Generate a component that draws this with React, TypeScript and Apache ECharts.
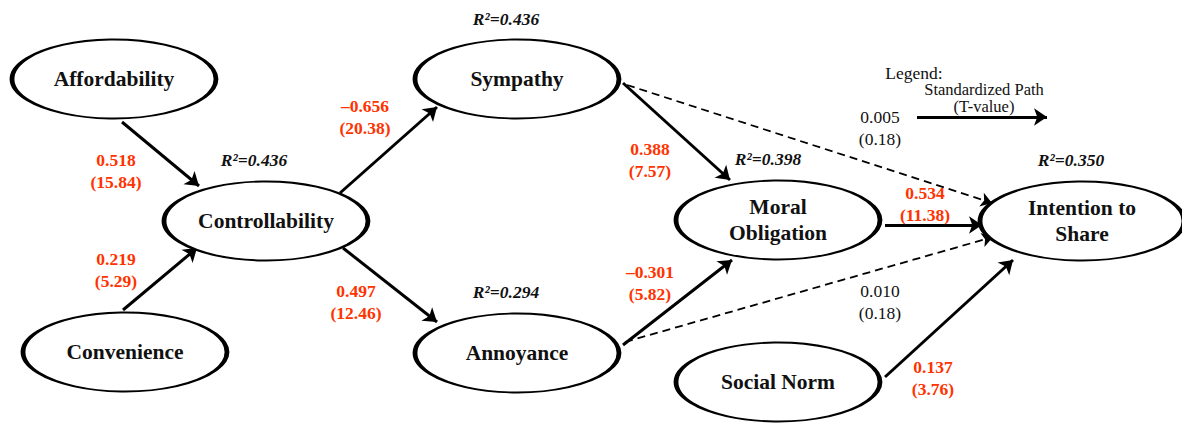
import React, { useEffect, useRef } from "react";
import * as echarts from "echarts";

// ---- Data ----
const constructs = [
  "Affordability",
  "Convenience",
  "Controllability",
  "Sympathy",
  "Annoyance",
  "Moral Obligation",
  "Social Norm",
  "Intention to Share",
];
const constructLabels = [
  "Affordability",
  "Convenience",
  "Controllability",
  "Sympathy",
  "Annoyance",
  "Moral\nObligation",
  "Social Norm",
  "Intention to\nShare",
];

const r2Constructs = ["Controllability", "Sympathy", "Annoyance", "Moral Obligation", "Intention to Share"];
const r2Values = ["0.436", "0.436", "0.294", "0.398", "0.350"];

const pathFrom = [
  "Affordability",
  "Convenience",
  "Controllability",
  "Controllability",
  "Sympathy",
  "Annoyance",
  "Sympathy",
  "Annoyance",
  "Moral Obligation",
  "Social Norm",
];
const pathTo = [
  "Controllability",
  "Controllability",
  "Sympathy",
  "Annoyance",
  "Moral Obligation",
  "Moral Obligation",
  "Intention to Share",
  "Intention to Share",
  "Intention to Share",
  "Intention to Share",
];
const pathBeta = ["0.518", "0.219", "\u20130.656", "0.497", "0.388", "\u20130.301", "0.005", "0.010", "0.534", "0.137"];
const pathT = ["15.84", "5.29", "20.38", "12.46", "7.57", "5.82", "0.18", "0.18", "11.38", "3.76"];
const pathSignificant = [true, true, true, true, true, true, false, false, true, true];

const legendTitle = "Legend:";
const legendLines = ["Standardized Path", "(T-value)"];

// ---- Layout (positions only) ----
const nodePos: Record<string, [number, number]> = {
  Affordability: [114, 79],
  Convenience: [125, 352],
  Controllability: [266, 221],
  Sympathy: [517, 79],
  Annoyance: [517, 353],
  "Moral Obligation": [778, 220],
  "Social Norm": [778, 382],
  "Intention to Share": [1082, 221],
};
const nodeSize: [number, number] = [204, 79];

// edge anchor points, same order as paths
const edgeAnchors: [number, number, number, number][] = [
  [122, 122, 199, 186],
  [123, 310, 197, 248],
  [340, 193, 437, 107],
  [343, 248, 437, 322],
  [623, 83, 730, 180],
  [623, 345, 732, 260],
  [627, 85, 992, 203],
  [625, 342, 993, 237],
  [885, 225, 982, 225],
  [885, 377, 1013, 260],
];
const edgeLabelPos: [number, number][] = [
  [116, 171],
  [116, 270],
  [365, 117],
  [356, 302],
  [650, 160],
  [650, 283],
  [880, 128],
  [880, 302],
  [925, 204],
  [933, 378],
];
const r2Pos: Record<string, [number, number]> = {
  Controllability: [254, 160],
  Sympathy: [506, 19],
  Annoyance: [506, 292],
  "Moral Obligation": [768, 159],
  "Intention to Share": [1071, 160],
};
const legendArrow: [number, number, number, number] = [917, 117, 1047, 117];
const legendTitlePos: [number, number] = [914, 73];
const legendLinePos: [number, number][] = [
  [984, 89.5],
  [984, 106.5],
];

const W = 1182;
const H = 423;
const FONT = "Liberation Serif, Times New Roman, serif";
const RED = "#ff3300";
const INK = "#111111";

export default function App() {
  const ref = useRef<HTMLDivElement>(null);

  useEffect(() => {
    if (!ref.current) return;
    const chart = echarts.init(ref.current, null, { renderer: "svg" });

    const nodeData = constructs.map((c, i) => ({
      name: c,
      value: nodePos[c],
      label: { formatter: constructLabels[i] },
    }));

    const solidLines: any[] = [];
    const dashedLines: any[] = [];
    pathFrom.forEach((_, i) => {
      const a = edgeAnchors[i];
      const item = { name: `${pathFrom[i]} -> ${pathTo[i]}`, coords: [[a[0], a[1]], [a[2], a[3]]] };
      if (pathSignificant[i]) solidLines.push(item);
      else dashedLines.push(item);
    });
    solidLines.push({ coords: [[legendArrow[0], legendArrow[1]], [legendArrow[2], legendArrow[3]]] });

    const coefData = pathBeta.map((b, i) => ({
      value: edgeLabelPos[i],
      label: {
        formatter: `${b}\n(${pathT[i]})`,
        color: pathSignificant[i] ? RED : INK,
        fontWeight: pathSignificant[i] ? "bold" : "normal",
      },
    }));

    const r2Data = r2Constructs.map((c, i) => ({
      value: r2Pos[c],
      label: { formatter: `R\u00B2=${r2Values[i]}` },
    }));

    const legendData = [
      { value: legendTitlePos, label: { formatter: legendTitle, fontSize: 17.5 } },
      ...legendLines.map((t, i) => ({ value: legendLinePos[i], label: { formatter: t } })),
    ];

    const textSeries = (data: any[], label: any) => ({
      type: "scatter",
      data,
      symbolSize: 0,
      itemStyle: { opacity: 1 },
      label: {
        show: true,
        position: "inside",
        fontFamily: FONT,
        align: "center",
        verticalAlign: "middle",
        opacity: 1,
        ...label,
      },
      z: 4,
      silent: true,
    });

    chart.setOption({
      animation: false,
      grid: { left: 0, right: 0, top: 0, bottom: 0 },
      xAxis: { type: "value", min: 0, max: W, show: false },
      yAxis: { type: "value", min: 0, max: H, inverse: true, show: false },
      series: [
        {
          type: "lines",
          coordinateSystem: "cartesian2d",
          data: solidLines,
          symbol: ["none", "arrow"],
          symbolSize: 13,
          lineStyle: { color: "#000", width: 3, opacity: 1 },
          z: 2,
          silent: true,
        },
        {
          type: "lines",
          coordinateSystem: "cartesian2d",
          data: dashedLines,
          symbol: ["none", "arrow"],
          symbolSize: 11,
          lineStyle: { color: "#000", width: 1.8, type: [8, 5], opacity: 1 },
          z: 2,
          silent: true,
        },
        {
          type: "scatter",
          data: nodeData,
          symbol: "circle",
          symbolSize: nodeSize,
          itemStyle: { color: "#fff", borderColor: "#000", borderWidth: 3, opacity: 1 },
          label: {
            show: true,
            position: "inside",
            color: INK,
            fontFamily: FONT,
            fontWeight: "bold",
            fontSize: 21.5,
            lineHeight: 26,
            align: "center",
            verticalAlign: "middle",
          },
          z: 3,
          silent: true,
        },
        textSeries(coefData, { fontSize: 17.5, lineHeight: 22 }),
        textSeries(r2Data, { color: INK, fontWeight: "bold", fontStyle: "italic", fontSize: 17.5 }),
        textSeries(legendData, { color: INK, fontSize: 16.5, lineHeight: 16 }),
      ],
    });

    return () => chart.dispose();
  }, []);

  return (
    <div
      ref={ref}
      style={{ position: "absolute", left: 0, top: 0, width: W, height: H, background: "#fff" }}
    />
  );
}
